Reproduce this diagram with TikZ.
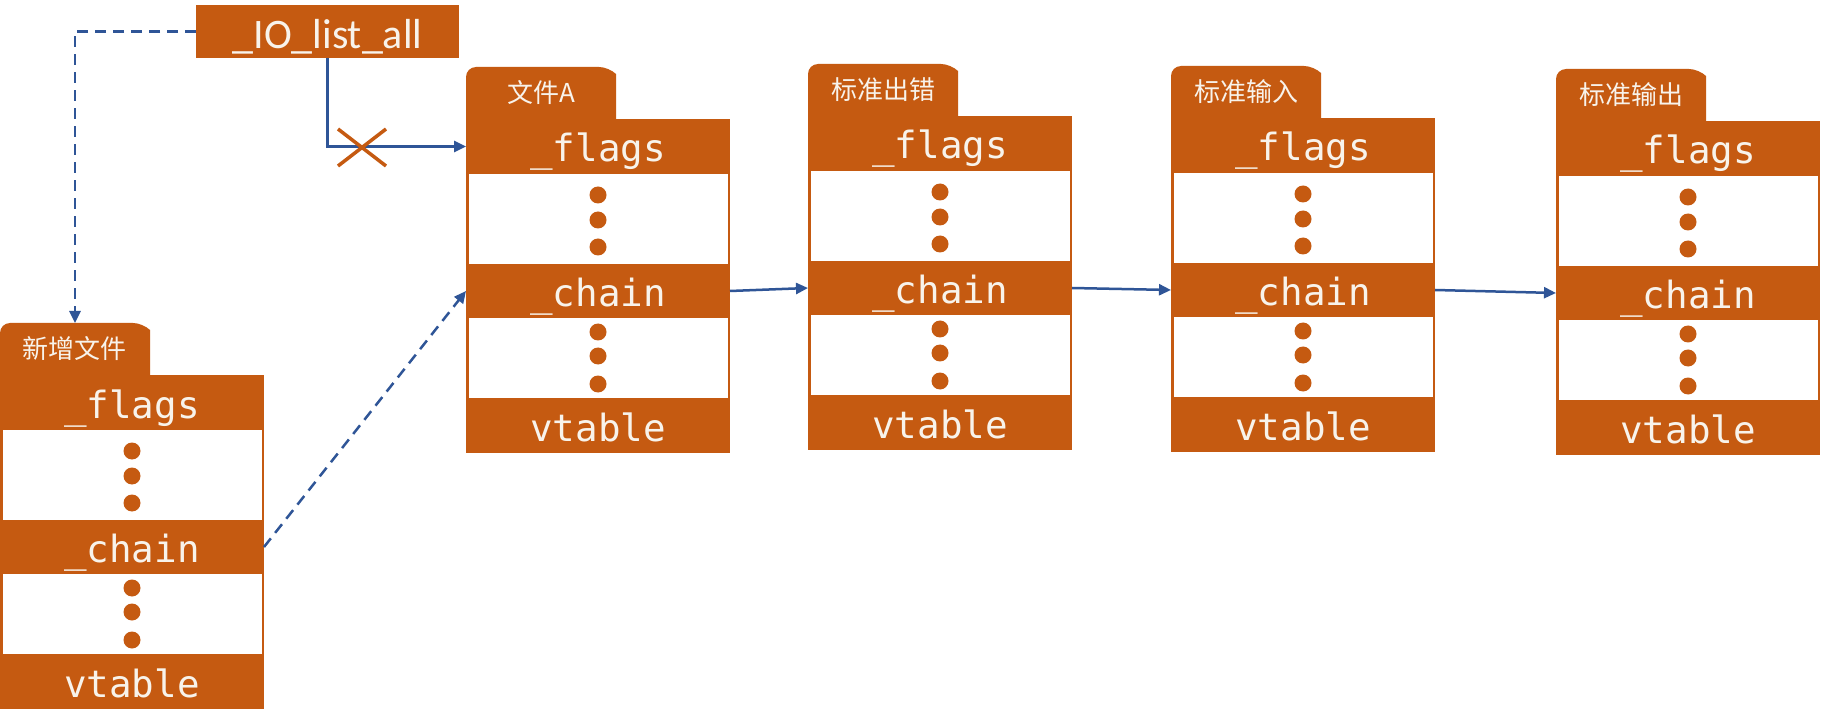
\documentclass[tikz,border=0pt]{standalone}
\usepackage{fontspec}
\setmainfont{Carlito}
\newfontfamily\cjkfont{Noto Sans CJK SC}
\newfontfamily\codefont{DejaVu Sans Mono}
\usetikzlibrary{arrows.meta}
\definecolor{rust}{HTML}{C55A11}
\definecolor{linkblue}{HTML}{2F5597}
\definecolor{cream}{HTML}{F8F3EB}
\tikzset{
  hdr/.style={rectangle, fill=rust, minimum width=264pt, inner sep=0pt, outer sep=0pt,
    anchor=north west, text=cream, font=\codefont\fontsize{37.5}{37.5}\selectfont,
    text height=31pt, text depth=0pt},
  gaprow/.style={rectangle, fill=white, minimum width=259pt, inner sep=0pt, outer sep=0pt,
    anchor=north west},
  tablabel/.style={rectangle, minimum width=150pt, minimum height=52pt, inner sep=0pt,
    outer sep=0pt, anchor=north west, text=cream, font=\cjkfont\fontsize{26}{26}\selectfont},
  iobox/.style={rectangle, fill=rust, minimum width=263pt, minimum height=53pt, inner sep=0pt,
    outer sep=0pt, anchor=north west, text=cream, font=\fontsize{42}{42}\selectfont,
    text height=35pt, text depth=0pt},
  link/.style={draw=linkblue, line width=2.5pt, -{Triangle[length=12pt,width=11pt]}},
  dashlink/.style={link, dash pattern=on 11pt off 7pt},
}
\newcommand\myblock[4]{%
  % tab
  \fill[rust] (#2,{#3+52}) [rounded corners=10pt] -- (#2,#3) -- ({#2+143},#3)
     [sharp corners] -- ({#2+150},{#3+7}) -- ({#2+150},{#3+52}) -- cycle;
  \node[tablabel] (#1-tab) at (#2,#3) {#4};
  % body
  \fill[rust] (#2,{#3+52}) rectangle ({#2+264},{#3+386});
  \node[hdr, minimum height=55pt] (#1-flags) at (#2,{#3+52}) {\_flags};
  \node[gaprow, minimum height=90pt] (#1-gapa) at ({#2+2.5},{#3+107}) {};
  \node[hdr, minimum height=54pt] (#1-chain) at (#2,{#3+197}) {\_chain};
  \node[gaprow, minimum height=80pt] (#1-gapb) at ({#2+2.5},{#3+251}) {};
  \node[hdr, minimum height=55pt] (#1-vtable) at (#2,{#3+331}) {vtable};
  \foreach \d/\e in {-25/-26,0/-2,27/26} {
    \fill[rust] ({#2+132},{#3+153+\d}) circle (8.5pt);
    \fill[rust] ({#2+132},{#3+291+\e}) circle (8.5pt);
  }
}
\begin{document}
\begin{tikzpicture}[x=1pt,y=-1pt]
\useasboundingbox[fill=white] (0,0) rectangle (1821,727);
\node[iobox] (io) at (196,5) {\_IO\_list\_all};
\myblock{newf}{0}{323}{新增文件}
\myblock{fa}{466}{67}{文件A}
\myblock{serr}{808}{64}{标准出错}
\myblock{sin}{1171}{66}{标准输入}
\myblock{sout}{1556}{69}{标准输出}
% connectors
\draw[dashlink] (io.west) -| (newf-tab.north);
\draw[link] (io.south) |- (fa-flags.west);
\draw[rust, line width=3.5pt] (338,129) -- (386,166) (338,166) -- (386,129);
\draw[dashlink] (newf-chain.east) -- (fa-chain.west);
\draw[link] (fa-chain.east) -- (serr-chain.west);
\draw[link] (serr-chain.east) -- (sin-chain.west);
\draw[link] (sin-chain.east) -- (sout-chain.west);
\end{tikzpicture}
\end{document}
